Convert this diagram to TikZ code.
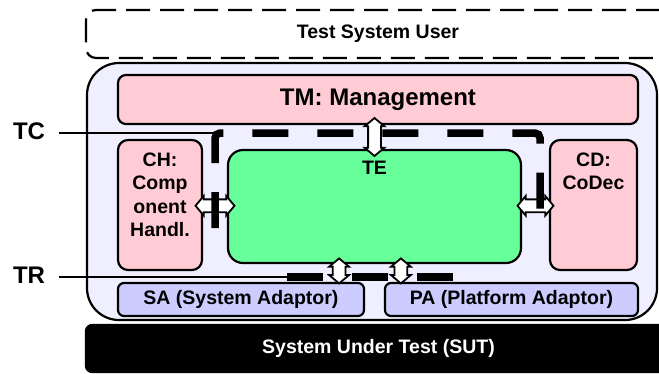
\documentclass[tikz,border=0pt]{standalone}
\usepackage{fontspec}
\setmainfont{Liberation Sans}
\usetikzlibrary{calc,shapes.arrows}
\definecolor{boxpink}{RGB}{255,204,214}
\definecolor{tegreen}{RGB}{102,255,153}
\definecolor{syslilac}{RGB}{239,239,255}
\definecolor{adaptblue}{RGB}{204,204,255}
\newcommand{\bodyfont}{\bfseries\fontsize{19.5}{23.5}\selectfont}
\newcommand{\bigfont}{\bfseries\fontsize{24}{28}\selectfont}
\newcommand{\makelink}[4]{
	\node[fatarrow, shape border rotate=#3, minimum height=#4] (#1) at (#2) {};
}
\tikzset{
	diagbox/.style={draw, line width=2.2pt, rounded corners=#1, font=\bodyfont, align=center, inner sep=0pt},
	fatarrow/.style={double arrow, draw, fill=white, line width=1.8pt, inner sep=5.5pt,
		double arrow head extend=3.5pt, double arrow tip angle=100},
	busline/.style={line width=7.5pt, dash pattern=on 36pt off 29pt, rounded corners=5pt},
	tapline/.style={line width=1.6pt}
}

\begin{document}
\begin{tikzpicture}[x=1pt,y=-1pt]
	\useasboundingbox (0,0) rectangle (659,373);

	\node[diagbox=32pt, fill=syslilac, minimum width=570pt, minimum height=257pt] (sys) at (372,191.5) {};
	\node[diagbox=10pt, dash pattern=on 24pt off 10pt, minimum width=584pt, minimum height=48pt] (tsu) at (378,34) {Test System User};
	\node[diagbox=6pt, fill=black, text=white, minimum width=585pt, minimum height=47pt] (sut) at (378.5,348.5) {System Under Test (SUT)};

	\node[diagbox=8pt, fill=boxpink, font=\bigfont, minimum width=520pt, minimum height=49pt] (tm) at (378,99.5) {TM: Management};
	\node[diagbox=10pt, fill=boxpink, minimum width=84pt, minimum height=130pt,
		label={[align=center, anchor=north, yshift=-10pt, font=\bodyfont]north:{CH:\\Comp\\onent\\Handl.}}] (ch) at (160,205) {};
	\node[diagbox=15pt, fill=tegreen, minimum width=293pt, minimum height=113pt,
		label={[anchor=north, yshift=-9pt, font=\bodyfont]north:TE}] (te) at (374.5,206.5) {};
	\node[diagbox=10pt, fill=boxpink, minimum width=87pt, minimum height=130pt,
		label={[align=center, anchor=north, yshift=-10pt, font=\bodyfont]north:{CD:\\CoDec}}] (cd) at (593.5,205) {};
	\node[diagbox=6pt, fill=adaptblue, minimum width=246pt, minimum height=33pt] (sa) at (241,299.5) {SA (System Adaptor)};
	\node[diagbox=6pt, fill=adaptblue, minimum width=253pt, minimum height=33pt] (pa) at (511.5,299.5) {PA (Platform Adaptor)};

	\node[font=\bigfont] (tc) at (29,131) {TC};
	\node[font=\bigfont] (tr) at (29,275) {TR};

	\coordinate (tcstart) at (215,228);
	\coordinate (tcbend) at (215,133);
	\coordinate (tcturn) at (540,133);
	\coordinate (tcend) at (540,210);
	\coordinate (trstart) at (287,277);
	\coordinate (trend) at (453,277);

	\draw[tapline, shorten <=10pt] (tr.east |- trstart) -- (trstart);
	\draw[busline] (trstart) -- (trend);

	\makelink{mgmtlink}{$(tm.south -| te.north)!0.5!(te.north)$}{90}{38pt}
	\makelink{chlink}{$(ch.east)!0.5!(te.west)$}{0}{39pt}
	\makelink{cdlink}{$(te.east)!0.5!(cd.west)$}{0}{36pt}
	\makelink{salink}{$(sa.north east)+(-26,-11)$}{90}{25pt}
	\makelink{palink}{$(pa.north west)+(17,-11)$}{90}{25pt}

	\draw[tapline, shorten <=10pt] (tc.east |- tcbend) -- (tcbend);
	\draw[busline] (tcstart) -- (tcbend) -- (tcturn) -- (tcend);
\end{tikzpicture}
\end{document}
